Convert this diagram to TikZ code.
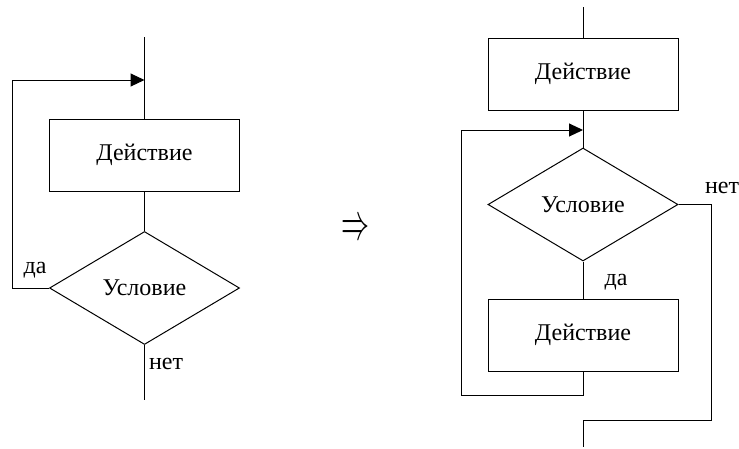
\documentclass[tikz,border=0pt]{standalone}
\usepackage{fontspec}
\setmainfont{Liberation Serif}
\usetikzlibrary{shapes.geometric,arrows.meta}
\begin{document}
\begin{tikzpicture}[x=1pt,y=-1pt,
  line width=1pt,
  every node/.style={font=\rmfamily\fontsize{24}{28}\selectfont},
  actbox/.style={draw,rectangle,minimum width=190pt,minimum height=72pt,inner sep=0pt},
  condbox/.style={draw,diamond,aspect=1.68,minimum width=190pt,minimum height=113pt,inner sep=0pt},
  lbl/.style={inner sep=0pt},
  flow/.style={draw},
  loopin/.style={draw,-{Triangle[length=14pt,width=13pt]}}]
\useasboundingbox (0,0) rectangle (739,448);

% Post-condition loop
\coordinate (ltop) at (144.5,37);
\coordinate (ltip) at (144.5,80);
\coordinate (lend) at (144.5,400);
\node[actbox] (lact) at (144.5,155) {Действие};
\node[condbox] (lcond) at (144.5,288) {Условие};
\path[flow] (ltop) -- (lact.north);
\path[flow] (lact.south) -- (lcond.north);
\path[flow] (lcond.south) -- (lend);
\path[loopin] (lcond.west) -| (12,80) -- (ltip);
\node[lbl] (lyes) at (35,270) {да};
\node[lbl] (lno) at (166,364) {нет};

% Implication sign
\node[lbl] (impl) at (355,229.5) {\resizebox{28pt}{19pt}{$\Rightarrow$}};

% Equivalent pre-condition form
\coordinate (rtop) at (583,7);
\coordinate (rtip) at (583,130);
\coordinate (rback) at (583,395);
\coordinate (rexit) at (711,204.5);
\coordinate (rjoin) at (583,420);
\coordinate (rend) at (583,447);
\node[actbox] (ract1) at (583,74) {Действие};
\node[condbox] (rcond) at (583,204.5) {Условие};
\node[actbox] (ract2) at (583,335) {Действие};
\path[flow] (rtop) -- (ract1.north);
\path[flow] (ract1.south) -- (rcond.north);
\path[flow] (rcond.south) -- (ract2.north);
\path[flow] (ract2.south) -- (rback) -| (461,130);
\path[loopin] (461,130) -- (rtip);
\path[flow] (rcond.east) -- (rexit) |- (rjoin) -- (rend);
\node[lbl] (ryes) at (616,282) {да};
\node[lbl] (rno) at (722,188) {нет};
\end{tikzpicture}
\end{document}
